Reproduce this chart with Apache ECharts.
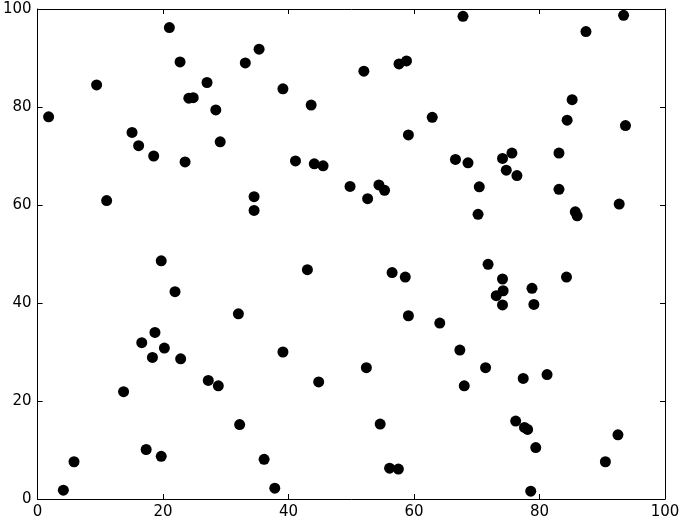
<!DOCTYPE html>
<html>
<head>
<meta charset="utf-8">
<script src="https://cdn.jsdelivr.net/npm/echarts@6/dist/echarts.min.js"></script>
<style>
  html, body { margin: 0; padding: 0; background: #fff; }
  #main { width: 683px; height: 520px; }
</style>
</head>
<body>
<div id="main"></div>
<script>
// point positions
var xValues = [
    1.75, 9.4, 11.0, 15.05, 16.1, 18.5, 21.0, 22.7, 23.5, 24.1, 24.8, 27.0, 28.4, 29.1,
    33.1, 35.3, 34.5, 34.5, 39.1, 41.1, 43.6, 44.1, 45.5, 19.7,
    67.8, 93.4, 87.4, 52.0, 57.6, 58.8, 85.2, 84.4, 93.7, 62.9, 59.1, 66.6, 68.6, 74.1,
    75.6, 74.7, 76.4, 83.1, 83.1, 49.8, 52.6, 54.4, 55.3, 70.4, 70.2, 85.7, 86.0, 92.7,
    43.0, 21.9, 32.0, 18.7, 16.6, 20.2, 18.3, 22.8, 39.1, 13.7, 27.2, 28.8, 44.8, 32.2,
    17.3, 19.7, 36.1, 5.8, 4.1, 37.8,
    71.8, 56.5, 58.6, 74.1, 74.2, 73.1, 74.1, 78.8, 79.1, 84.3, 59.1, 64.1, 67.3, 52.4,
    71.4, 77.4, 81.2, 68.0, 54.6, 76.2, 77.6, 78.1, 92.5, 79.4, 90.5, 56.1, 57.5, 78.6
];
var yValues = [
    78.0, 84.5, 60.9, 74.8, 72.1, 70.0, 96.2, 89.2, 68.8, 81.8, 81.9, 85.0, 79.4, 72.9,
    89.0, 91.8, 61.7, 58.9, 83.7, 69.0, 80.4, 68.4, 68.0, 48.6,
    98.5, 98.7, 95.4, 87.3, 88.8, 89.4, 81.5, 77.3, 76.2, 77.9, 74.3, 69.3, 68.6, 69.5,
    70.6, 67.1, 66.0, 70.6, 63.2, 63.8, 61.3, 64.1, 63.0, 63.7, 58.1, 58.6, 57.8, 60.2,
    46.8, 42.3, 37.8, 34.0, 31.9, 30.8, 28.9, 28.6, 30.0, 21.9, 24.2, 23.1, 23.9, 15.2,
    10.1, 8.7, 8.1, 7.6, 1.8, 2.2,
    47.9, 46.2, 45.3, 44.9, 42.5, 41.5, 39.6, 43.0, 39.7, 45.3, 37.4, 35.9, 30.4, 26.8,
    26.8, 24.6, 25.4, 23.1, 15.3, 15.9, 14.6, 14.2, 13.1, 10.5, 7.6, 6.3, 6.1, 1.6
];
var tickStep = 20;

var points = xValues.map(function (x, i) {
    return [x, yValues[i]];
});

var labelFont = {
    color: '#000',
    fontFamily: 'DejaVu Sans',
    fontSize: 15
};

function makeAxis(pos, showLabel) {
    return {
        type: 'value',
        position: pos,
        min: 0,
        max: 100,
        interval: tickStep,
        splitLine: { show: false },
        axisLine: { show: true, onZero: false, lineStyle: { color: '#000', width: 1 } },
        axisTick: { show: true, inside: true, length: 5, lineStyle: { color: '#000', width: 1 } },
        axisLabel: Object.assign({ show: showLabel, margin: 6 }, labelFont)
    };
}

var myChart = echarts.init(document.getElementById('main'));
var option = {
    animation: false,
    backgroundColor: '#fff',
    grid: {
        left: 36,
        right: 18,
        top: 9,
        bottom: 21,
        containLabel: false
    },
    xAxis: [makeAxis('bottom', true), makeAxis('top', false)],
    yAxis: [makeAxis('left', true), makeAxis('right', false)],
    series: [
        {
            type: 'scatter',
            xAxisIndex: 0,
            yAxisIndex: 0,
            symbol: 'circle',
            symbolSize: 11,
            itemStyle: { color: '#000', opacity: 1 },
            data: points
        }
    ]
};
myChart.setOption(option);
</script>
</body>
</html>
